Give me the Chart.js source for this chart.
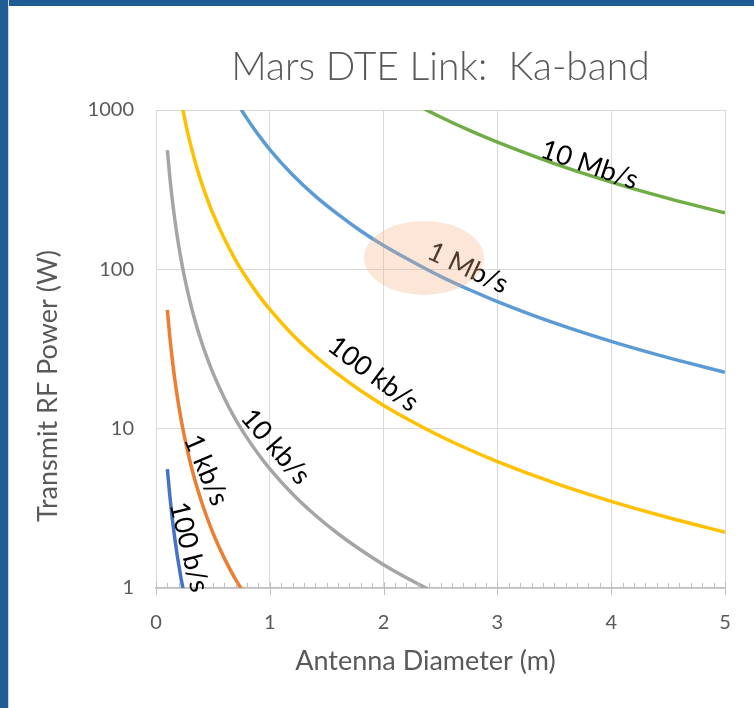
<!DOCTYPE html>
<html>
<head>
<meta charset="utf-8">
<script src="https://cdn.jsdelivr.net/npm/chart.js@4"></script>
<style>
  html, body { margin: 0; padding: 0; background: #ffffff; }
  #wrap { position: relative; width: 754px; height: 708px; overflow: hidden; }
  #chart { position: absolute; left: 0; top: 0; }
  .band-top { position: absolute; left: 0; top: 0; width: 754px; height: 6px; background: #1f5c93; }
  .band-left { position: absolute; left: 0; top: 0; width: 8px; height: 708px; background: #1f5c93; border-right: 1px solid #c9d8ec; }
</style>
</head>
<body>
<div id="wrap">
  <canvas id="chart" width="754" height="708"></canvas>
  <div class="band-top"></div>
  <div class="band-left"></div>
</div>
<script>
// Antenna diameter (m) sampled for every curve
const diameters = [0.1, 0.12, 0.14, 0.16, 0.18, 0.2, 0.22, 0.25, 0.3, 0.35, 0.4, 0.45, 0.5, 0.6, 0.7, 0.8, 0.9,
                   1, 1.2, 1.4, 1.6, 1.8, 2, 2.25, 2.5, 2.75, 3, 3.5, 4, 4.5, 5];

// Required transmit RF power (W) per data rate
const power100bps = [5.58, 3.88, 2.85, 2.18, 1.72, 1.40, 1.15, 0.89,
                     null, null, null, null, null, null, null, null, null, null, null, null, null, null, null,
                     null, null, null, null, null, null, null, null];
const power1kbps = [55.6, 38.6, 28.4, 21.7, 17.2, 13.9, 11.5, 8.9, 6.18, 4.54, 3.48, 2.75, 2.22, 1.54, 1.13, 0.87,
                    null, null, null, null, null, null, null, null, null, null, null, null, null, null, null];
const power10kbps = [560, 389, 286, 219, 173, 140, 116, 89.6, 62.2, 45.7, 35.0, 27.7, 22.4, 15.6, 11.4, 8.75, 6.91,
                     5.60, 3.89, 2.86, 2.19, 1.73, 1.40, 1.11, 0.90, null, null, null, null, null, null];
const power100kbps = [5600, 3890, 2860, 2190, 1730, 1400, 1157, 896, 622, 457, 350, 277, 224, 156, 114, 87.5, 69.1,
                      56.0, 38.9, 28.6, 21.9, 17.3, 14.0, 11.1, 8.96, 7.40, 6.22, 4.57, 3.50, 2.77, 2.24];
const power1Mbps = [null, null, null, null, null, null, null, null, null, null, null, null, 2260, 1570, 1153, 883, 698,
                    565, 392, 288, 221, 174, 141, 112, 90.4, 74.7, 62.8, 46.1, 35.3, 27.9, 22.6];
const power10Mbps = [null, null, null, null, null, null, null, null, null, null, null, null, null, null, null, null, null,
                     null, null, null, null, 1744, 1413, 1116, 904, 747, 628, 461, 353, 279, 226];

const rateNames = ['100 b/s', '1 kb/s', '10 kb/s', '100 kb/s', '1 Mb/s', '10 Mb/s'];
const powerTicks = [1, 10, 100, 1000];
const diameterTicks = [0, 1, 2, 3, 4, 5];

const FONT = 'Lato, "Open Sans", "Noto Sans", sans-serif';
const GREY_TEXT = '#595959';

function series(values) {
  return diameters.map((d, i) => ({ x: d, y: values[i] }));
}

const lineColors = ['#4472C4', '#ED7D31', '#A5A5A5', '#FFC000', '#5B9BD5', '#70AD47'];
const allPowers = [power100bps, power1kbps, power10kbps, power100kbps, power1Mbps, power10Mbps];

// Where each rate label sits along its curve (data coords) and its tilt in degrees
const curveLabels = [
  { text: '10 Mb/s',  d: 3.81, p: 452,  angle: 19 },
  { text: '1 Mb/s',   d: 2.74, p: 102,  angle: 25 },
  { text: '100 kb/s', d: 1.91, p: 22.0, angle: 37 },
  { text: '10 kb/s',  d: 1.05, p: 7.7,  angle: 49 },
  { text: '1 kb/s',   d: 0.44, p: 5.5,  angle: 67 },
  { text: '100 b/s',  d: 0.29, p: 1.81, angle: 76 }
];
// Highlight around the 1 Mb/s operating point
const highlight = { d: 2.355, p: 118, rx: 60, ry: 37 };

const decorations = {
  id: 'decorations',
  afterDatasetsDraw(chart) {
    const { ctx, chartArea: area, scales: { x, y } } = chart;
    ctx.save();

    // minor ticks every 0.1 m (above the axis) and major ticks crossing it
    ctx.strokeStyle = '#BFBFBF';
    ctx.lineWidth = 1;
    for (let k = 0; k <= 50; k++) {
      const px = Math.round(x.getPixelForValue(k / 10)) + 0.5;
      ctx.beginPath();
      if (k % 10 === 0) {
        ctx.moveTo(px, area.bottom - 6);
        ctx.lineTo(px, area.bottom + 7);
      } else {
        ctx.moveTo(px, area.bottom - 5);
        ctx.lineTo(px, area.bottom);
      }
      ctx.stroke();
    }

    // rate labels along the curves
    ctx.fillStyle = '#000000';
    ctx.font = '27px ' + FONT;
    ctx.textAlign = 'center';
    ctx.textBaseline = 'middle';
    curveLabels.forEach(l => {
      ctx.save();
      ctx.translate(x.getPixelForValue(l.d), y.getPixelForValue(l.p));
      ctx.rotate(l.angle * Math.PI / 180);
      ctx.fillText(l.text, 0, 0);
      ctx.restore();
    });

    // translucent highlight ellipse
    ctx.fillStyle = 'rgba(244, 177, 131, 0.32)';
    ctx.beginPath();
    ctx.ellipse(x.getPixelForValue(highlight.d), y.getPixelForValue(highlight.p), highlight.rx, highlight.ry, 0, 0, Math.PI * 2);
    ctx.fill();

    // chart and axis titles
    ctx.fillStyle = GREY_TEXT;
    ctx.textAlign = 'center';
    ctx.textBaseline = 'middle';
    ctx.font = '300 39px ' + FONT;
    ctx.fillText('Mars DTE Link:  Ka-band', (area.left + area.right) / 2, 67);
    ctx.font = '27px ' + FONT;
    ctx.fillText('Antenna Diameter (m)', (area.left + area.right) / 2 - 15, 661);
    ctx.save();
    ctx.translate(48, 386);
    ctx.rotate(-Math.PI / 2);
    ctx.fillText('Transmit RF Power (W)', 0, 0);
    ctx.restore();

    ctx.restore();
  }
};

new Chart(document.getElementById('chart'), {
  type: 'line',
  data: {
    datasets: allPowers.map((vals, i) => ({
      label: rateNames[i],
      data: series(vals),
      borderColor: lineColors[i],
      backgroundColor: lineColors[i],
      borderWidth: 3.5,
      pointRadius: 0,
      cubicInterpolationMode: 'monotone',
      spanGaps: false,
      clip: 0
    }))
  },
  options: {
    responsive: false,
    animation: false,
    devicePixelRatio: 1,
    layout: { padding: { left: 0, right: 29, top: 110, bottom: 0 } },
    plugins: { legend: { display: false }, title: { display: false }, tooltip: { enabled: false } },
    scales: {
      x: {
        type: 'linear',
        min: 0,
        max: 5,
        afterBuildTicks(scale) { scale.ticks = diameterTicks.map(v => ({ value: v })); },
        afterFit(scale) { scale.height = 120; },
        grid: { color: '#D9D9D9', lineWidth: 1, drawTicks: false },
        border: { color: '#BFBFBF', width: 1.5 },
        ticks: { color: GREY_TEXT, font: { family: FONT, size: 20 }, padding: 23, maxRotation: 0 }
      },
      y: {
        type: 'logarithmic',
        min: 1,
        max: 1000,
        afterBuildTicks(scale) { scale.ticks = powerTicks.map(v => ({ value: v })); },
        afterFit(scale) { scale.width = 156; },
        grid: { color: '#D9D9D9', lineWidth: 1, drawTicks: false },
        border: { color: '#D9D9D9', width: 1 },
        ticks: { color: GREY_TEXT, font: { family: FONT, size: 20 }, padding: 22, callback: v => String(v) }
      }
    }
  },
  plugins: [decorations]
});
</script>
</body>
</html>
